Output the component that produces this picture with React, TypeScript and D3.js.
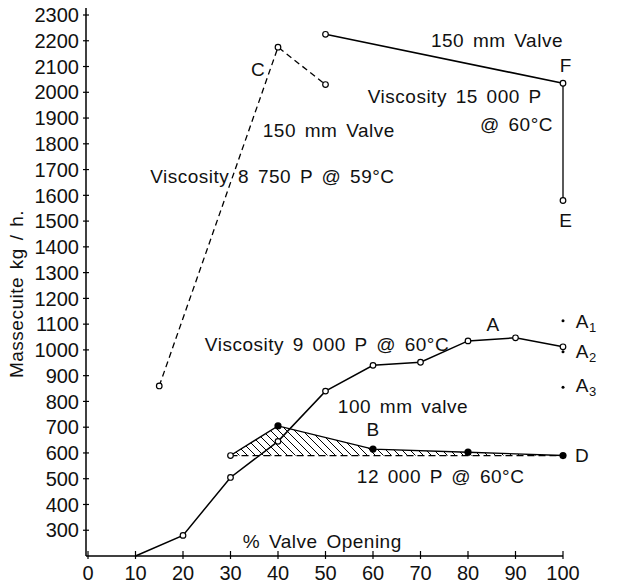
import React from 'react';
import * as d3 from 'd3';

// % valve opening on x, massecuite throughput (kg/h) on y
const xTicks = [0, 10, 20, 30, 40, 50, 60, 70, 80, 90, 100];
const yTicks = [300, 400, 500, 600, 700, 800, 900, 1000, 1100, 1200, 1300, 1400, 1500, 1600, 1700, 1800, 1900, 2000, 2100, 2200, 2300];

// 150 mm valve, viscosity 8 750 P @ 59°C (dashed)
const visc8750Pct = [15, 40, 50];
const visc8750Val = [860, 2175, 2030];

// 150 mm valve, viscosity 15 000 P @ 60°C
const visc15000Pct = [50, 100];
const visc15000Val = [2225, 2035];
// F -> E drop at full opening
const feVal = [2035, 1580];

// 100 mm valve, viscosity 9 000 P @ 60°C
const visc9000Pct = [10, 20, 30, 40, 50, 60, 70, 80, 90, 100];
const visc9000Val = [200, 280, 505, 645, 840, 940, 952, 1035, 1047, 1012];

// 12 000 P @ 60°C (hatched against the 590 base)
const p12000Pct = [30, 40, 60, 80, 100];
const p12000Val = [590, 705, 615, 603, 590];
const hatchBase = 590;

// loose readings A1, A2, A3 at 100 %
const aDotsVal = [1113, 993, 855];

// annotations, placed in data units
const labels = [
  { t: '150 mm Valve', p: 72.2, v: 2176, a: 'start' },
  { t: 'F', p: 100.6, v: 2079, a: 'middle' },
  { t: 'Viscosity 15 000 P', p: 58.9, v: 1958, a: 'start' },
  { t: '@ 60°C', p: 97.9, v: 1850, a: 'end' },
  { t: 'E', p: 100.6, v: 1477, a: 'middle' },
  { t: 'C', p: 35.8, v: 2063, a: 'middle' },
  { t: '150 mm Valve', p: 36.8, v: 1826, a: 'start' },
  { t: 'Viscosity 8 750 P @ 59°C', p: 13.1, v: 1648, a: 'start' },
  { t: 'Viscosity 9 000 P @ 60°C', p: 24.6, v: 996, a: 'start' },
  { t: 'A', p: 85.3, v: 1073, a: 'middle' },
  { t: 'D', p: 102.5, v: 565, a: 'start' },
  { t: '100 mm valve', p: 52.6, v: 755, a: 'start' },
  { t: 'B', p: 60, v: 666, a: 'middle' },
  { t: '12 000 P @ 60°C', p: 56.6, v: 483, a: 'start' },
  { t: '% Valve Opening', p: 32.6, v: 231, a: 'start' },
];
const subLabels = [
  { t: 'A', s: '1', p: 102.7, v: 1085 },
  { t: 'A', s: '2', p: 102.7, v: 969 },
  { t: 'A', s: '3', p: 102.7, v: 837 },
];

const W = 618;
const H = 587;
const font = "'Liberation Sans', Arial, Helvetica, sans-serif";

export default function App() {
  const x = d3.scaleLinear().domain([0, 100]).range([88, 563]);
  const y = d3.scaleLinear().domain([200, 2300]).range([556, 15]);

  const line = d3.line<[number, number]>().x(d => x(d[0])).y(d => y(d[1]));
  const zip = (ps: number[], vs: number[]) => ps.map((p, i) => [p, vs[i]] as [number, number]);

  const s8750 = zip(visc8750Pct, visc8750Val);
  const s15000 = zip(visc15000Pct, visc15000Val);
  const sFE = zip([100, 100], feVal);
  const s9000 = zip(visc9000Pct, visc9000Val);
  const s12000 = zip(p12000Pct, p12000Val);

  const hatchArea = d3.area<[number, number]>()
    .x(d => x(d[0]))
    .y0(y(hatchBase))
    .y1(d => y(d[1]));

  const openDot = (pts: [number, number][], key: string) =>
    pts.map((d, i) => (
      <circle key={key + i} cx={x(d[0])} cy={y(d[1])} r={2.8} fill="#fff" stroke="#000" strokeWidth={1.2} />
    ));

  const txt = { fontFamily: font, fontSize: 19, letterSpacing: 0.5, wordSpacing: 3, fill: '#111' };

  return (
    <div style={{ position: 'absolute', left: 0, top: 0 }}>
      <svg width={W} height={H} style={{ display: 'block', background: '#fff' }}>
        <defs>
          <pattern id="hatch" patternUnits="userSpaceOnUse" width={8} height={8}>
            <path d="M0,0 L8,8 M-2,6 L2,10 M6,-2 L10,2" stroke="#000" strokeWidth={1} />
          </pattern>
        </defs>

        {/* axes */}
        <line x1={x(0) - 2} x2={x(0) - 2} y1={8} y2={y(200)} stroke="#000" strokeWidth={1.5} />
        <line x1={x(0) - 2} x2={x(100)} y1={y(200)} y2={y(200)} stroke="#000" strokeWidth={1.5} />
        {yTicks.map(t => (
          <g key={'yt' + t}>
            <line x1={x(0) - 5} x2={x(0) + 1} y1={y(t)} y2={y(t)} stroke="#000" strokeWidth={1.2} />
            <text x={79} y={y(t)} dy="0.36em" textAnchor="end" fontFamily={font} fontSize={20} fill="#111">{t}</text>
          </g>
        ))}
        {xTicks.map(t => (
          <g key={'xt' + t}>
            <line x1={x(t)} x2={x(t)} y1={y(200) - 5} y2={y(200) + 3} stroke="#000" strokeWidth={1.2} />
            <text x={x(t)} y={580} textAnchor="middle" fontFamily={font} fontSize={20} fill="#111">{t}</text>
          </g>
        ))}
        <text transform="translate(23,294) rotate(-90)" textAnchor="middle" fontFamily={font} fontSize={19} letterSpacing={0.5} wordSpacing={2} fill="#111">
          Massecuite kg / h.
        </text>

        {/* hatched band */}
        <path d={hatchArea(s12000) || ''} fill="url(#hatch)" stroke="none" />
        <line x1={x(p12000Pct[0])} x2={x(100)} y1={y(hatchBase)} y2={y(hatchBase)} stroke="#000" strokeWidth={1.2} strokeDasharray="7,4" />
        <path d={line(s12000) || ''} fill="none" stroke="#000" strokeWidth={1.4} />

        {/* series lines */}
        <path d={line(s8750) || ''} fill="none" stroke="#000" strokeWidth={1.3} strokeDasharray="6,4" />
        <path d={line(s15000) || ''} fill="none" stroke="#000" strokeWidth={1.6} />
        <path d={line(sFE) || ''} fill="none" stroke="#000" strokeWidth={1.3} />
        <path d={line(s9000) || ''} fill="none" stroke="#000" strokeWidth={1.5} />

        {/* markers */}
        {openDot(s8750, 'a')}
        {openDot(s15000, 'b')}
        {openDot([sFE[1]], 'c')}
        {openDot(s9000.slice(1), 'd')}
        {openDot([s12000[0]], 'e')}
        {s12000.slice(1).map((d, i) => (
          <circle key={'f' + i} cx={x(d[0])} cy={y(d[1])} r={3.6} fill="#000" />
        ))}
        {aDotsVal.map((v, i) => (
          <circle key={'g' + i} cx={x(100)} cy={y(v)} r={1.5} fill="#000" />
        ))}

        {/* annotations */}
        {labels.map((l, i) => (
          <text key={'l' + i} x={x(l.p)} y={y(l.v)} textAnchor={l.a as any} {...txt}>{l.t}</text>
        ))}
        {subLabels.map((l, i) => (
          <text key={'s' + i} x={x(l.p)} y={y(l.v)} {...txt}>
            {l.t}
            <tspan fontSize={13} dy={4}>{l.s}</tspan>
          </text>
        ))}
      </svg>
    </div>
  );
}
